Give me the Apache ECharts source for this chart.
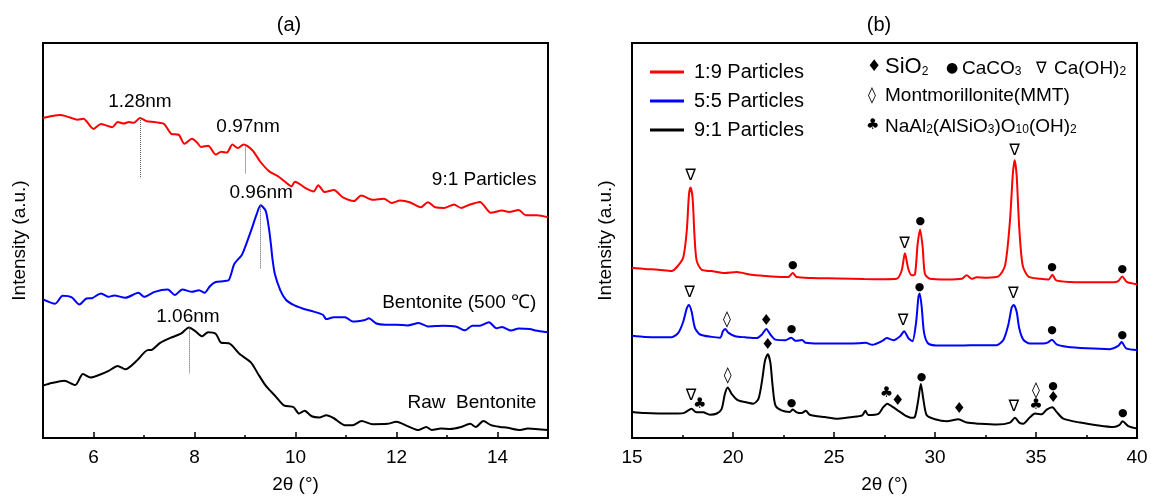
<!DOCTYPE html>
<html>
<head>
<meta charset="utf-8">
<title>XRD</title>
<script src="https://cdn.jsdelivr.net/npm/echarts/dist/echarts.min.js"></script>
<style>
  html, body { margin: 0; padding: 0; background: #fff; }
  #main { width: 1151px; height: 499px; }
</style>
</head>
<body>
<div id="main"></div>
<script>
// ---- panel (a): small-angle patterns, [2θ, intensity] ----
const redA = [[5.0,81],[5.18,81.5],[5.35,81.75],[5.52,81.2],[5.68,80.6],[5.8,80.8],[6.0,78.25],[6.15,79.5],[6.37,78.7],[6.48,80],[6.6,79.6],[6.7,80],[6.8,79.8],[6.92,81],[7.05,80.2],[7.2,80],[7.3,79.8],[7.4,79.5],[7.54,77],[7.69,76.75],[7.8,74.5],[7.95,75.75],[8.05,74.8],[8.13,73.7],[8.27,74],[8.42,71.75],[8.53,72.5],[8.64,72.25],[8.75,74.3],[8.86,73.4],[8.97,74.3],[9.15,72.8],[9.3,70],[9.48,67.5],[9.66,66.2],[9.8,64.8],[9.92,63.7],[9.99,64.9],[10.2,63.25],[10.36,62.4],[10.45,64],[10.58,62.25],[10.76,62.8],[10.94,60.9],[11.16,60],[11.3,61.4],[11.53,60.3],[11.75,60.6],[11.9,59.5],[12.07,60.1],[12.26,59.7],[12.48,58.4],[12.62,59.7],[12.77,58.4],[12.95,58.25],[13.14,59.1],[13.28,58.25],[13.43,59],[13.65,59.75],[13.87,57],[14.09,57.6],[14.23,57.2],[14.42,57.7],[14.56,56.4],[14.78,56.4],[15,55.9]]
const blueA = [[5,35.1],[5.24,34],[5.39,36],[5.57,35.6],[5.72,33.8],[5.86,35.3],[5.97,35.4],[6.15,36.6],[6.3,35.75],[6.41,36.1],[6.63,35.5],[6.89,36.75],[7.0,35.75],[7.21,37],[7.47,37.6],[7.61,36.2],[7.76,37.6],[7.95,37],[8.09,37.4],[8.2,36.75],[8.31,38.5],[8.42,39.5],[8.57,39.7],[8.68,40],[8.79,44.1],[8.93,46.2],[9.0,48.25],[9.12,52.5],[9.23,56.6],[9.31,58.9],[9.41,57.5],[9.48,52.5],[9.52,48.25],[9.54,45.75],[9.59,41.6],[9.7,37.4],[9.81,35],[9.96,33.7],[10.14,32.8],[10.36,32],[10.54,31.2],[10.61,30.1],[10.76,30.6],[10.98,30.6],[11.13,29.5],[11.38,29.9],[11.45,30.3],[11.6,29],[11.78,28.7],[12.0,28.7],[12.22,28.5],[12.44,29.1],[12.62,28.25],[12.92,28.4],[13.17,28.25],[13.36,27.25],[13.5,28.4],[13.65,28.4],[13.83,29.3],[13.98,27.8],[14.09,28.1],[14.27,27.2],[14.42,27.75],[14.64,27.6],[14.75,27.2],[15,26.75]]
const blackA = [[5,13.25],[5.17,13.9],[5.42,14.5],[5.64,13.4],[5.79,16.2],[5.94,15.3],[6.12,16],[6.3,17],[6.48,18.25],[6.63,17.4],[6.85,19.5],[7.07,22.25],[7.15,22.3],[7.32,24.1],[7.51,25.3],[7.73,26.4],[7.89,28],[8.02,27],[8.15,25.75],[8.27,26.8],[8.42,26.4],[8.53,24.1],[8.68,24],[8.9,21.2],[9.12,19.1],[9.26,16.2],[9.41,13.25],[9.59,10.75],[9.77,8.25],[9.96,7.8],[10.07,6.2],[10.18,6.9],[10.32,5.5],[10.47,5.2],[10.61,5.75],[10.76,5.0],[10.98,3.25],[11.13,3.25],[11.31,4.3],[11.53,3.5],[11.82,3.6],[12.0,4.1],[12.22,3.0],[12.44,2.0],[12.59,2.8],[12.7,2.0],[12.88,2.4],[13.06,2.3],[13.28,2.8],[13.46,3.6],[13.57,2.8],[13.72,4.3],[13.87,3.25],[14.05,2.8],[14.2,2.6],[14.45,2.0],[14.6,2.4],[15,2.0]]

// d-spacing notes and the dotted drop lines [2θ, top, bottom]
const notesA = [['1.28nm',6.92,85],['0.97nm',9.06,78.75],['0.96nm',9.32,62],['1.06nm',7.87,30.75]]
const dropA = [[6.92,81,65.75],[9.0,74.3,67],[9.31,58.9,42.8],[7.89,28,16.3]]
const namesA = [['9:1 Particles',14.78,65.5],['Bentonite (500 ℃)',14.78,34.25],['Raw  Bentonite',14.78,9]]

// ---- panel (b): wide-angle patterns ----
const red19 = [[15,43.1],[15.64,42.8],[16.3,42.6],[16.96,42.25],[17.29,43.7],[17.54,45.75],[17.71,52.4],[17.82,61.6],[17.9,63.4],[18.0,60.75],[18.09,51.6],[18.2,44.9],[18.45,42.6],[18.94,42.25],[19.6,41.75],[20.18,42],[20.93,41.3],[21.92,40.9],[22.74,40.75],[22.96,41.75],[23.15,40.75],[23.9,40.5],[25.2,40.4],[26.5,40.25],[27.5,40.2],[28.1,40.3],[28.35,42.4],[28.51,46.75],[28.68,42.8],[28.85,41.2],[29.01,41.5],[29.14,49.1],[29.26,52.8],[29.39,48.25],[29.5,41.6],[29.75,40.3],[30.58,40.1],[31.32,40.3],[31.57,41.2],[31.82,40.3],[32.06,40.7],[32.56,40.6],[33.14,40.9],[33.47,43.7],[33.71,54.9],[33.85,66.6],[33.94,70.3],[34.04,66.6],[34.17,53.25],[34.34,43.7],[34.62,40.9],[35.2,40.3],[35.61,40.1],[35.81,41.3],[36.0,39.9],[36.7,39.5],[37.84,39.4],[38.83,39.4],[39.07,39.7],[39.27,40.9],[39.49,39.5],[40,38.9]]
const blue55 = [[15,25.9],[15.64,25.6],[16.3,25.5],[16.96,25.5],[17.29,26.6],[17.54,29.5],[17.71,32.8],[17.82,33.7],[17.95,32],[18.12,27.8],[18.37,26.2],[18.94,25.6],[19.36,25.4],[19.5,27],[19.61,27.6],[19.78,26.6],[20.11,25.75],[20.6,25.5],[21.18,25.3],[21.43,26.2],[21.65,27.6],[21.85,26.2],[22.1,24.9],[22.6,24.75],[22.88,25.4],[23.1,24.6],[23.42,24.8],[23.6,24.1],[24.26,23.9],[25.25,23.9],[26.24,24.0],[26.57,24.1],[26.9,23.6],[27.4,24.6],[27.61,25.3],[27.94,24.75],[28.27,25.75],[28.47,27],[28.68,25.3],[28.88,24.5],[29.06,29.1],[29.18,35.75],[29.24,36.6],[29.34,33.25],[29.46,26.6],[29.67,23.9],[30.25,23.4],[31.24,23.4],[32.23,23.5],[33.06,23.5],[33.39,24.9],[33.63,28.7],[33.8,33.1],[33.9,33.7],[34.04,32],[34.17,27.8],[34.37,24.9],[34.7,23.9],[35.36,23.9],[35.6,24.2],[35.79,24.9],[36.02,23.7],[36.52,23.1],[37.5,22.7],[38.66,22.5],[39.07,23.3],[39.24,24.3],[39.46,22.7],[40,22.25]]
const black91 = [[15,6.6],[15.64,6.3],[16.3,6.2],[17.13,6.2],[17.54,6.3],[17.79,7],[17.95,7.4],[18.15,6.6],[18.53,6.5],[18.86,5.9],[19.2,6.2],[19.44,7.4],[19.6,11.2],[19.74,12.8],[19.93,11.2],[20.26,9.5],[20.6,9.1],[21.0,8.7],[21.26,9.9],[21.45,14.9],[21.58,19.5],[21.72,21.2],[21.85,19.1],[21.96,13.25],[22.1,8.25],[22.4,7],[22.81,6.6],[22.96,7.2],[23.15,6.5],[23.4,6.3],[23.6,6.9],[23.8,5.9],[24.55,5.3],[25.2,4.9],[25.9,5.3],[26.4,5.75],[26.55,6.9],[26.7,5.8],[27.2,6.1],[27.44,7.8],[27.64,8.7],[27.86,8.0],[28.1,7.2],[28.27,6.6],[28.51,5.75],[28.85,5.1],[29.01,5.4],[29.18,9.9],[29.3,13.7],[29.42,9.9],[29.59,5.75],[30.0,4.75],[30.58,4.25],[31.16,4.75],[31.57,3.9],[32.23,3.6],[33.06,3.4],[33.71,3.9],[33.96,5.1],[34.17,3.9],[34.37,3.6],[34.7,5.25],[34.95,6.2],[35.28,6.0],[35.53,7.2],[35.81,7.8],[36.02,6.6],[36.35,4.9],[37.18,3.9],[38.0,3.25],[38.83,2.8],[39.12,3.25],[39.29,4.25],[39.57,3.0],[40,2.4]]

// phase marks over the peaks [glyph, 2θ, height]
const marks19 = [['∇',17.9,66.4],['●',22.96,43.7],['∇',28.5,49.1],['●',29.27,54.9],['∇',33.94,72.6],['●',35.8,43.25],['●',39.27,42.8]]
const marks55 = [['∇',17.85,36.75],['◊',19.7,29.9],['♦',21.65,29.5],['●',22.9,27.6],['∇',28.42,29.7],['●',29.24,38.1],['∇',33.88,36.4],['●',35.8,27.2],['●',39.27,26]]
const marks91 = [['∇',17.92,10.6],['♣',18.35,8.7],['◊',19.74,15.75],['♦',21.72,23.4],['●',22.9,8.9],['♣',27.6,11.4],['♦',28.15,9.25],['●',29.33,15.3],['♦',31.2,7.2],['∇',33.9,7.8],['♣',35.0,8.25],['◊',35.0,12],['♦',35.85,10.1],['●',35.85,13.1],['●',39.3,6.3]]

const seriesNamesB = ['1:9 Particles', '5:5 Particles', '9:1 Particles']
const ticksA = [6, 8, 10, 12, 14]

const FONT = '"Liberation Sans", Arial, sans-serif'
const glyphSize = { '∇': 16, '●': 11, '♦': 15, '◊': 16, '♣': 15 }

const chart = echarts.init(document.getElementById('main'))

function line (name, data, color, xi, yi) {
  return {
    name: name, type: 'line', data: data, xAxisIndex: xi, yAxisIndex: yi,
    showSymbol: false, smooth: 0.25, color: color, lineStyle: { color: color, width: 2 },
    silent: true, z: 3
  }
}

// invisible points that only carry a text label
function textLayer (items, xi, yi, pos, size, family) {
  return {
    type: 'scatter', xAxisIndex: xi, yAxisIndex: yi, symbolSize: 1, silent: true, z: 5,
    itemStyle: { color: 'rgba(0,0,0,0)', opacity: 1 },
    data: items.map(d => ({
      value: [d[1], d[2]], name: d[0],
      label: { fontSize: size || glyphSize[d[0]] }
    })),
    label: {
      show: true, position: pos, distance: 0, formatter: p => p.name,
      color: '#000', opacity: 1, textBorderWidth: 0,
      fontFamily: family || FONT, fontSize: 19
    }
  }
}

const notes = textLayer(notesA, 0, 0, 'inside', 19)
notes.markLine = {
  silent: true, symbol: 'none', animation: false,
  label: { show: false },
  lineStyle: { type: 'dotted', color: '#555', width: 1, opacity: 1 },
  data: dropA.map(d => [{ coord: [d[0], d[1]] }, { coord: [d[0], d[2]] }])
}

const xBase = {
  axisLine: { lineStyle: { color: '#000', width: 2 } },
  axisLabel: { color: '#000', fontSize: 19, fontFamily: FONT, margin: 10 },
  splitLine: { show: false },
  name: '2θ (°)', nameLocation: 'middle', nameGap: 37,
  nameTextStyle: { color: '#000', fontSize: 19, fontFamily: FONT }
}
const yBase = {
  type: 'value', min: 0, max: 100,
  axisLine: { show: true, lineStyle: { color: '#000', width: 2 } },
  axisTick: { show: false }, axisLabel: { show: false }, splitLine: { show: false },
  name: 'Intensity (a.u.)', nameLocation: 'middle',
  nameTextStyle: { color: '#000', fontSize: 19, fontFamily: FONT }
}

// rich text for chemical formulas with subscripts
const rich = {
  n: { fontSize: 19, fontFamily: FONT, verticalAlign: 'bottom', lineHeight: 22 },
  b: { fontSize: 22, fontFamily: FONT, verticalAlign: 'bottom', lineHeight: 22 },
  s: { fontSize: 12, fontFamily: FONT, verticalAlign: 'bottom', lineHeight: 19 }
}
function label (x, y, text, extra) {
  return {
    type: 'text', x: x, y: y, silent: true, z: 10,
    style: Object.assign({ text: text, fill: '#000', font: '19px ' + FONT, align: 'left', verticalAlign: 'middle', rich: rich }, extra)
  }
}
const glyphFont = (px) => px + 'px "DejaVu Sans"'

const option = {
  animation: false,
  textStyle: { fontFamily: FONT },
  grid: [
    { left: 43, top: 43, width: 505, height: 400, show: true, borderColor: '#000', borderWidth: 2 },
    { left: 632, top: 43, width: 505, height: 400, show: true, borderColor: '#000', borderWidth: 2 }
  ],
  xAxis: [
    Object.assign({}, xBase, {
      type: 'value', gridIndex: 0, min: 5, max: 15, interval: 1, position: 'bottom',
      axisTick: { inside: true, length: 3, lineStyle: { width: 1.5 } },
      axisLabel: Object.assign({}, xBase.axisLabel, { formatter: v => (v % 2 === 0 ? String(v) : '') })
    }),
    {
      type: 'value', gridIndex: 0, min: 5, max: 15, position: 'bottom',
      axisLine: { show: false }, axisLabel: { show: false }, splitLine: { show: false },
      axisTick: { inside: true, length: 6, customValues: ticksA, lineStyle: { color: '#000', width: 1.5 } }
    },
    Object.assign({}, xBase, {
      type: 'value', gridIndex: 1, min: 15, max: 40, interval: 5, position: 'bottom',
      axisTick: { inside: true, length: 6, lineStyle: { width: 1.5 } },
      minorTick: { show: true, splitNumber: 2, length: 3, lineStyle: { color: '#000', width: 1.5 } }
    })
  ],
  yAxis: [
    Object.assign({}, yBase, { gridIndex: 0, nameGap: 14 }),
    Object.assign({}, yBase, { gridIndex: 1, nameGap: 17 })
  ],
  legend: {
    left: 645, top: 57, orient: 'vertical', itemWidth: 34, itemHeight: 3, itemGap: 9,
    icon: 'rect', selectedMode: false,
    textStyle: { fontSize: 20, color: '#000', fontFamily: FONT, padding: [0, 0, 0, 5] },
    data: seriesNamesB
  },
  graphic: [
    label(289, 25, '(a)', { align: 'center', font: '20px ' + FONT }),
    label(879, 25, '(b)', { align: 'center', font: '20px ' + FONT }),
    label(867, 67, '♦', { font: glyphFont(16) }),
    label(885, 67, '{b|SiO}{s|2}'),
    label(946, 68, '●', { font: glyphFont(14) }),
    label(962, 67, '{n|CaCO}{s|3}'),
    label(1036, 69, '∇', { font: glyphFont(16) }),
    label(1054, 67, '{n|Ca(OH)}{s|2}'),
    label(868, 96, '◊', { font: glyphFont(16) }),
    label(885, 96, 'Montmorillonite(MMT)'),
    label(866, 125, '♣', { font: glyphFont(15) }),
    label(885, 125, '{n|NaAl}{s|2}{n|(AlSiO}{s|3}{n|)O}{s|10}{n|(OH)}{s|2}')
  ],
  series: [
    line('a-particles', redA, '#ff0000', 0, 0),
    line('a-500', blueA, '#0000ff', 0, 0),
    line('a-raw', blackA, '#000000', 0, 0),
    notes,
    textLayer(namesA, 0, 0, 'left', 19),
    line(seriesNamesB[0], red19, '#ff0000', 2, 1),
    line(seriesNamesB[1], blue55, '#0000ff', 2, 1),
    line(seriesNamesB[2], black91, '#000000', 2, 1),
    textLayer(marks19.concat(marks55, marks91), 2, 1, 'inside', null, '"DejaVu Sans"')
  ]
}

chart.setOption(option)
</script>
</body>
</html>
